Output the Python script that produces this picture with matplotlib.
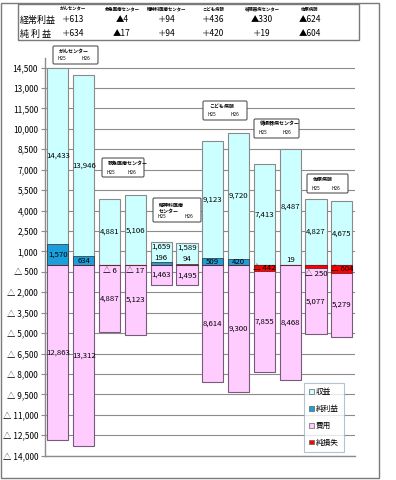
import numpy as np
import matplotlib.pyplot as plt
from matplotlib.patches import Rectangle, FancyBboxPatch, Patch

plt.rcParams['font.family'] = ['Noto Sans CJK JP', 'DejaVu Sans']

# ---------------- data ----------------
hospitals = ['がんセンター', '救急医療センター', '精神科医療\nセンター', 'こども病院', '循環器病センター', '佐原病院']
header_names = ['がんセンター', '救急医療センター', '精神科医療センター', 'こども病院', '循環器病センター', '佐原病院']
keijo = ['＋613', '▲4', '＋94', '＋436', '▲330', '▲624']
junri = ['＋634', '▲17', '＋94', '＋420', '＋19', '▲604']

revenue = [14433, 13946, 4881, 5106, 1659, 1589, 9123, 9720, 7413, 8487, 4827, 4675]
expense = [12863, 13312, 4887, 5123, 1463, 1495, 8614, 9300, 7855, 8468, 5077, 5279]
net = [1570, 634, -6, -17, 196, 94, 509, 420, -442, 19, -250, -604]

yticks = np.arange(-14000, 14501, 1500)

c_rev = '#ccffff'
c_prof = '#1a9fdc'
c_exp = '#ffccff'
c_loss = '#ff0000'

W, H = 396, 480
fig = plt.figure(figsize=(W / 100, H / 100), dpi=100)


def fx(x):
    return x / W


def fy(y):
    return 1 - y / H


ax = fig.add_axes([fx(45), fy(455.7), fx(309.7), (455.7 - 58) / H])
x = np.arange(len(revenue))
bw = 0.82

ax.bar(x, revenue, bw, color=c_rev, edgecolor='#8a8a8a', linewidth=0.8, zorder=2)
ax.bar(x, [-e for e in expense], bw, color=c_exp, edgecolor='#7a5a7a', linewidth=0.8, zorder=2)
prof = [n if n > 0 else 0 for n in net]
loss = [n if n < 0 else 0 for n in net]
ax.bar(x, prof, bw, color=c_prof, edgecolor='#404040', linewidth=0.6, zorder=3)
ax.bar(x, loss, bw, color=c_loss, edgecolor='#7a2020', linewidth=0.6, zorder=3)


def fmt(v):
    s = f'{abs(v):,}'
    return s if v >= 0 else '△ ' + s


fs = 5.6
for i in range(len(x)):
    top0 = max(net[i], 0)
    if revenue[i] - top0 < 2500:
        ry = revenue[i] - 330
    else:
        ry = (top0 + revenue[i]) / 2
    ax.text(x[i], ry, fmt(revenue[i]), ha='center', va='center', fontsize=fs, zorder=5)
    bot0 = min(net[i], 0)
    ax.text(x[i], (bot0 - expense[i]) / 2, fmt(expense[i]), ha='center', va='center', fontsize=fs, zorder=5)
    n = net[i]
    if abs(n) >= 300:
        ax.text(x[i], n / 2, fmt(n), ha='center', va='center', fontsize=fs, zorder=5)
    elif n >= 0:
        ax.text(x[i], n + 60, fmt(n), ha='center', va='bottom', fontsize=fs, zorder=5)
    else:
        ax.text(x[i], n - 120, fmt(n), ha='center', va='top', fontsize=fs, zorder=5)

ax.set_xlim(-0.5, len(x) - 0.5)
ax.set_ylim(-14000, 15200)
ax.set_yticks(yticks)
ax.set_yticklabels([fmt(int(v)) for v in yticks], fontsize=6)
ax.set_xticks([])
ax.yaxis.grid(True, color='#8c8c8c', linewidth=0.8, zorder=0)
ax.set_axisbelow(True)
ax.tick_params(axis='y', length=3, color='#8c8c8c', pad=2)
for s in ['top', 'right']:
    ax.spines[s].set_visible(False)
for s in ['left', 'bottom']:
    ax.spines[s].set_color('#8c8c8c')
    ax.spines[s].set_linewidth(1.0)

# legend
handles = [Patch(facecolor=c, edgecolor='#606060', linewidth=0.5) for c in [c_rev, c_prof, c_exp, c_loss]]
leg = ax.legend(handles, ['収益', '純利益', '費用', '純損失'], loc='upper left',
                bbox_to_anchor=((304 - 45) / 309.7, 1 - (383 - 58) / 397.7),
                fontsize=5.5, frameon=True, fancybox=False, handlelength=0.6, handleheight=0.6,
                handletextpad=0.2, labelspacing=1.15, borderpad=0.7, borderaxespad=0)
leg.get_frame().set_edgecolor('#a0b4cc')
leg.get_frame().set_linewidth(0.8)

# outer frame and header table
fig.patches.append(Rectangle((fx(1), fy(478)), fx(378), (478 - 3) / H, transform=fig.transFigure,
                             fill=False, edgecolor='#7a7a7a', linewidth=1.0))
fig.patches.append(Rectangle((fx(18), fy(40)), fx(341), 36 / H, transform=fig.transFigure,
                             fill=False, edgecolor='#7a7a7a', linewidth=1.0))

col_x = [73, 122, 167, 213, 262, 310]
fig.text(fx(20), fy(20), '経常利益', fontsize=6.5, va='center', ha='left')
fig.text(fx(20), fy(34), '純 利 益', fontsize=6.5, va='center', ha='left')
for cx, name, a, b in zip(col_x, header_names, keijo, junri):
    fig.text(fx(cx), fy(9), name, fontsize=3.2, ha='center', va='center', fontweight='bold')
    fig.text(fx(cx), fy(20), a, fontsize=6, ha='center', va='center')
    fig.text(fx(cx), fy(34), b, fontsize=6, ha='center', va='center')

# group label boxes (x0, y0, x1, y1) in pixels
boxes = [(53, 46, 98, 64), (102, 158, 144, 177), (153, 198, 201, 222),
         (203, 101, 247, 120), (254, 119, 299, 138), (307, 174, 348, 193)]
for (x0, y0, x1, y1), name in zip(boxes, hospitals):
    fig.patches.append(FancyBboxPatch((fx(x0), fy(y1)), fx(x1 - x0), (y1 - y0) / H,
                                      boxstyle='round,pad=0,rounding_size=0.003',
                                      transform=fig.transFigure, facecolor='white',
                                      edgecolor='#555555', linewidth=0.8, zorder=10))
    fig.text(fx(x0 + 6), fy(y0 + 5), name, fontsize=3.6, ha='left', va='top' if '\n' in name else 'center',
             fontweight='bold', zorder=11, linespacing=1.3)
    fig.text(fx(x0 + 9), fy(y1 - 5), 'H25', fontsize=3.4, ha='center', va='center', zorder=11)
    fig.text(fx(x1 - 12), fy(y1 - 5), 'H26', fontsize=3.4, ha='center', va='center', zorder=11)

fig.savefig('out.png', dpi=100)
